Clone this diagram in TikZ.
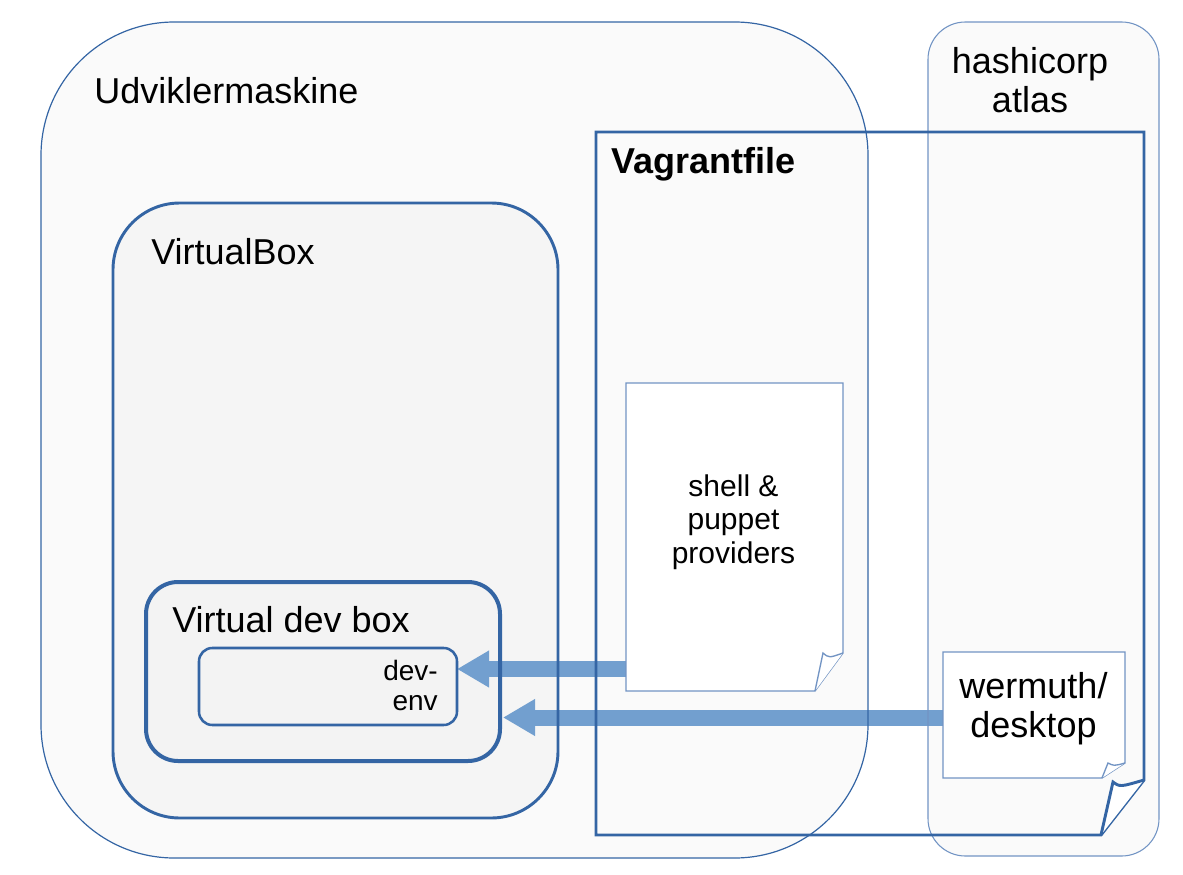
\documentclass[tikz,border=0pt]{standalone}
\usepackage{fontspec}
\setmainfont{Liberation Sans}
\usetikzlibrary{arrows.meta,fit,calc}
\definecolor{edge}{HTML}{3465A4}
\definecolor{docedge}{HTML}{7294C4}
\definecolor{arrowblue}{HTML}{729FCF}
\definecolor{paleA}{HTML}{FAFAFA}
\definecolor{paleB}{HTML}{F5F5F5}
\definecolor{paleC}{HTML}{F3F3F3}
\newcommand{\bigtxt}{\fontsize{27}{29}\selectfont}
\newcommand{\midtxt}{\fontsize{22.5}{25}\selectfont}
\newcommand{\smalltxt}{\fontsize{21}{22.5}\selectfont}
\tikzset{
  region/.style={inner sep=0pt, outer sep=0pt},
  outline/.style={draw=edge},
  docline/.style={draw=docedge, line width=1pt, line join=miter},
  bigarrow/.style={draw=arrowblue, line width=12pt,
    -{Triangle[length=24pt,width=26pt,fill=arrowblue]}},
  label/.style={inner sep=0pt, text=black}
}
\begin{document}
\begin{tikzpicture}[x=0.75pt,y=-0.75pt]
\useasboundingbox (0,0) rectangle (1183,875);

% ---------- fill pass ----------
\node[region, fit={(41,22) (868,858)}, fill=paleA, rounded corners=100pt] (udv) {};
\node[region, fit={(928,22) (1159,856)}, fill=paleA, rounded corners=28pt] (atlas) {};
\node[region, fit={(113,203) (558,818)}, fill=paleB, rounded corners=50pt] (vbox) {};
\node[region, fit={(146,582) (500,761)}, fill=paleC, rounded corners=24pt] (devbox) {};
\node[region, fit={(199,648) (457,725)}, fill=paleC, rounded corners=10pt] (devenv) {};
\node[region, fit={(596,132) (1144,835)}] (vag) {};
\node[region, fit={(626,383) (843,691)}] (shell) {};
\node[region, fit={(943,652) (1125,778)}] (werm) {};

% document fills
\fill[white] (shell.north west) -- (shell.north east) -- ([shift={(0,-38)}]shell.south east)
  -- ([shift={(-28,0)}]shell.south east) -- (shell.south west) -- cycle;
\fill[white] (werm.north west) -- (werm.north east) -- ([shift={(0,-15)}]werm.south east)
  -- ([shift={(-23,0)}]werm.south east) -- (werm.south west) -- cycle;

% ---------- arrows ----------
\coordinate (tipA) at ([shift={(0,-17.5)}]devenv.east);
\coordinate (tipB) at ([shift={(3,46)}]devbox.east);
\draw[bigarrow] (shell.west |- tipA) -- (tipA);
\draw[bigarrow] (werm.west |- tipB) -- (tipB);

% ---------- outlines ----------
\draw[outline, line width=0.9pt, rounded corners=100pt] (udv.north west) rectangle (udv.south east);
\draw[outline, line width=0.8pt, draw=docedge, rounded corners=28pt] (atlas.north west) rectangle (atlas.south east);
\draw[outline, line width=2.2pt, rounded corners=50pt] (vbox.north west) rectangle (vbox.south east);
\draw[outline, line width=3pt, rounded corners=24pt] (devbox.north west) rectangle (devbox.south east);
\draw[outline, line width=1.9pt, rounded corners=10pt] (devenv.north west) rectangle (devenv.south east);

% Vagrantfile (dog-eared)
\draw[outline, line width=2.2pt, line join=miter] (vag.north west) -- (vag.north east)
  -- ([shift={(0,-55)}]vag.south east) -- ([shift={(-43,0)}]vag.south east)
  -- (vag.south west) -- cycle;
\draw[outline, line width=2.2pt, fill=white, line join=miter] ([shift={(-43,0)}]vag.south east)
  -- ([shift={(-31,-53)}]vag.south east)
  .. controls ([shift={(-24,-48)}]vag.south east) .. ([shift={(0,-55)}]vag.south east);

% shell doc
\draw[docline] (shell.north west) -- (shell.north east) -- ([shift={(0,-38)}]shell.south east)
  -- ([shift={(-28,0)}]shell.south east) -- (shell.south west) -- cycle;
\draw[docline, fill=white] ([shift={(-28,0)}]shell.south east)
  -- ([shift={(-20,-38)}]shell.south east)
  .. controls ([shift={(-14,-33)}]shell.south east) .. ([shift={(0,-38)}]shell.south east);

% wermuth doc
\draw[docline] (werm.north west) -- (werm.north east) -- ([shift={(0,-15)}]werm.south east)
  -- ([shift={(-23,0)}]werm.south east) -- (werm.south west) -- cycle;
\draw[docline, fill=white] ([shift={(-23,0)}]werm.south east)
  -- ([shift={(-17,-15)}]werm.south east)
  .. controls ([shift={(-11,-12)}]werm.south east) .. ([shift={(0,-15)}]werm.south east);

% ---------- labels ----------
\node[label, anchor=base west, font=\bigtxt] (udvlabel) at (94,103) {Udviklermaskine};
\node[label, align=center, font=\bigtxt] (atlaslabel) at (1030,80) {hashicorp\\atlas};
\node[label, anchor=base west, font=\bigtxt\bfseries] (vaglabel) at (611,173) {Vagrantfile};
\node[label, anchor=base west, font=\bigtxt] (vboxlabel) at (151,264) {VirtualBox};
\node[label, anchor=base west, font=\bigtxt] (devboxlabel) at (172,632) {Virtual dev box};
\node[label, align=right, anchor=east, font=\smalltxt] (devenvlabel) at (438,685) {dev-\\env};
\node[label, align=center, font=\midtxt] (shelllabel) at (733.5,522) {shell \&\\puppet\\providers};
\node[label, align=center, font=\bigtxt] (wermlabel) at (1033.5,709) {wermuth/\\desktop};
\end{tikzpicture}
\end{document}
